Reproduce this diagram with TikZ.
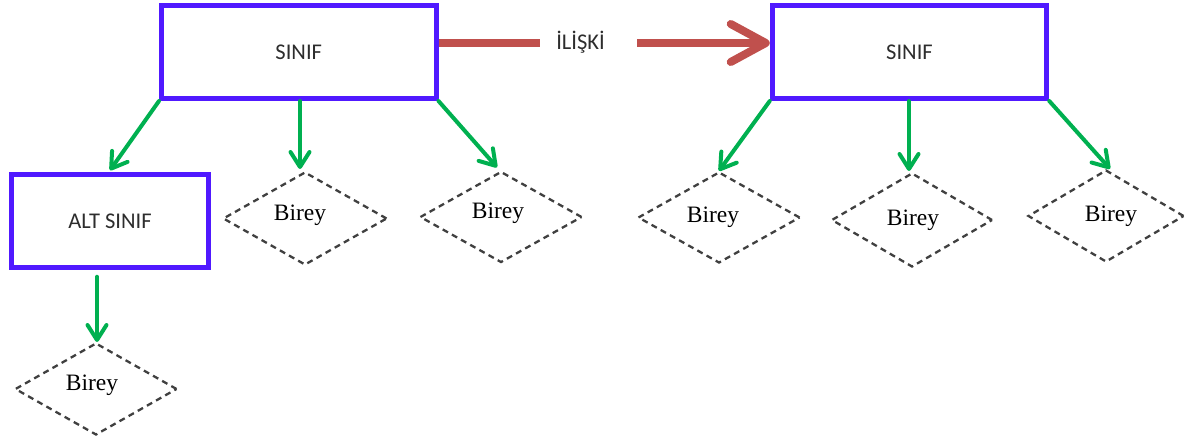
\documentclass[tikz,border=0pt]{standalone}
\usepackage{fontspec}
\setmainfont{Liberation Serif}
\newfontfamily\calib{Carlito}
\usetikzlibrary{shapes.geometric,arrows.meta}

\definecolor{boxblue}{RGB}{80,25,255}
\definecolor{linkgreen}{RGB}{0,176,80}
\definecolor{relred}{RGB}{192,80,77}
\definecolor{dashgray}{RGB}{64,64,64}
\definecolor{labelgray}{RGB}{45,45,45}

\tikzset{
  classbox/.style={draw=boxblue, line width=5pt, rectangle, inner sep=0pt,
    minimum height=92.5pt, text=labelgray,
    font=\calib\fontsize{22.5}{26}\selectfont},
  member/.style={draw=dashgray, line width=2.3pt, dash pattern=on 6pt off 4.5pt,
    diamond, inner sep=0pt},
  membertext/.style={inner sep=0pt, font=\fontsize{23.5}{27}\selectfont},
  haslink/.style={draw=linkgreen, line width=4pt, line cap=round,
    -{Straight Barb[length=15pt,width=19pt,round]}},
  relation/.style={draw=relred, line width=8pt},
}

\begin{document}
\begin{tikzpicture}[x=1pt, y=-1pt]
\useasboundingbox (0,0) rectangle (1185,443);

% classes
\node[classbox, minimum width=274.5pt] (s1) at (298.75,52.25) {SINIF};
\node[classbox, minimum width=274.5pt] (s2) at (909.5,52.25) {SINIF};
\node[classbox, minimum width=196.5pt] (alt) at (110,221) {ALT SINIF};

% members (diamonds) and their captions
\node[member, minimum width=164pt, minimum height=93pt] (d1) at (305,218.5) {};
\node[member, minimum width=162pt, minimum height=91pt] (d2) at (501,217) {};
\node[member, minimum width=162pt, minimum height=92pt] (d3) at (96,389) {};
\node[member, minimum width=162pt, minimum height=91pt] (d4) at (719,217.5) {};
\node[member, minimum width=161pt, minimum height=94pt] (d5) at (912,220) {};
\node[member, minimum width=156pt, minimum height=92pt] (d6) at (1106,216) {};

\node[membertext] (t1) at (300,215) {Birey};
\node[membertext] (t2) at (498,213) {Birey};
\node[membertext] (t3) at (92,385) {Birey};
\node[membertext] (t4) at (713,217) {Birey};
\node[membertext] (t5) at (913,220) {Birey};
\node[membertext] (t6) at (1111,216) {Birey};

% relation between the two classes
\node[inner sep=0pt, text=labelgray, font=\calib\fontsize{22.5}{26}\selectfont]
  (rel) at (580.5,42) {İLİŞKİ};
\coordinate (relA) at (540,43);
\coordinate (relB) at (637,43);
\draw[relation] (s1.east |- relA) -- (relA);
\draw[relation, -{Straight Barb[length=35pt,width=38pt,round]}]
  (relB) -- (relB -| s2.west);

% guide coordinates for the vertical links
\coordinate (vL) at (300,172);
\coordinate (vA) at (97,342);
\coordinate (vR) at (909,173);

% left class links
\draw[haslink] (s1.south west) -- ([yshift=2pt]alt.north);
\draw[haslink, shorten >=3pt] (s1.south -| vL) -- (vL);
\draw[haslink] (s1.south east) -- ([xshift=-4pt,yshift=3pt]d2.north);
\draw[haslink] ([yshift=-7pt]alt.south -| vA) -- (vA);

% right class links
\draw[haslink] (s2.south west) -- (d4.north);
\draw[haslink, shorten >=2pt] (s2.south -| vR) -- (vR);
\draw[haslink] (s2.south east) -- ([xshift=4pt]d6.north);
\end{tikzpicture}
\end{document}
